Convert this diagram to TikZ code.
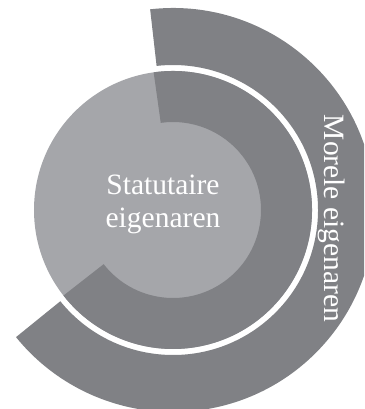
\documentclass[tikz,border=0pt]{standalone}
\usepackage{fontspec}
\setmainfont{Liberation Serif}
\usepackage{xcolor}
\usetikzlibrary{positioning}

\definecolor{ringdark}{RGB}{128,129,133}
\definecolor{disclight}{RGB}{165,166,170}

\begin{document}
\begin{tikzpicture}[
			ring/.style={fill=ringdark},
			disc/.style={fill=disclight},
			ringtext/.style={text=white, inner sep=0pt, align=center,
				font=\fontsize{16.8}{18.6}\selectfont}]

			\clip (-3.46,-3.98) rectangle (3.82,4.2);

			% outer ring
			\fill[ring] (96.5:4.04) arc[start angle=96.5, end angle=-141, radius=4.04]
				-- (-141:2.90) arc[start angle=-141, end angle=96.5, radius=2.90] -- cycle;

			% inner disc and its sector
			\fill[disc] (0,0) circle (2.78);
			\fill[ring] (98:2.78) arc[start angle=98, end angle=-142, radius=2.78]
				-- (-142:1.76) arc[start angle=-142, end angle=98, radius=1.76] -- cycle;

			\node[ringtext] (statutair) at (-0.2,0.11) {Statutaire\\eigenaren};
			\node[ringtext, rotate=-90] (moreel) at (3.18,-0.17) {Morele eigenaren};

		\end{tikzpicture}
\end{document}
